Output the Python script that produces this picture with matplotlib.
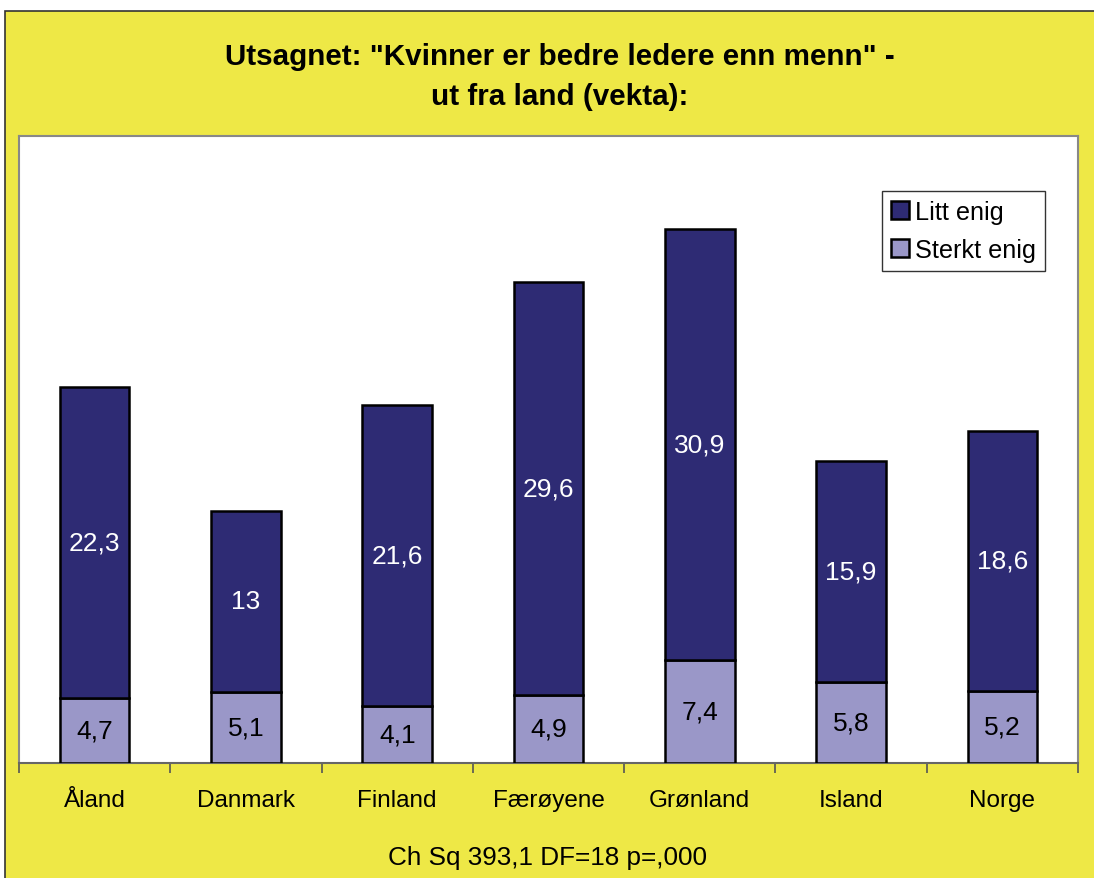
import matplotlib.pyplot as plt
from matplotlib.patches import Rectangle

plt.rcParams['font.family'] = ['Liberation Sans', 'DejaVu Sans']

countries = ['Åland', 'Danmark', 'Finland', 'Færøyene', 'Grønland', 'Island', 'Norge']
sterkt_enig = [4.7, 5.1, 4.1, 4.9, 7.4, 5.8, 5.2]
litt_enig = [22.3, 13, 21.6, 29.6, 30.9, 15.9, 18.6]

dark = '#2e2b74'
light = '#9a97c8'
yellow = '#eee846'

fig = plt.figure(figsize=(10.94, 8.79), dpi=100, facecolor='white')

# yellow chart area with border
fig.patches.append(Rectangle((5 / 1094, -0.01), 1.0, (879 - 12) / 879 + 0.01,
                             transform=fig.transFigure, facecolor=yellow,
                             edgecolor='#333333', linewidth=1.2, zorder=-10))

ax = fig.add_axes([19 / 1094, (879 - 764) / 879, (1078 - 19) / 1094, (764 - 137) / 879])
ax.set_facecolor('white')

x = list(range(len(countries)))
w = 0.46
ax.bar(x, sterkt_enig, width=w, color=light, edgecolor='black', linewidth=1.8,
       label='Sterkt enig', zorder=3)
ax.bar(x, litt_enig, width=w, bottom=sterkt_enig, color=dark, edgecolor='black',
       linewidth=1.8, label='Litt enig', zorder=3)

def fmt(v):
    s = ('%.1f' % v).replace('.', ',')
    return s[:-2] if s.endswith(',0') else s

for i in x:
    ax.text(i, sterkt_enig[i] / 2, fmt(sterkt_enig[i]), ha='center', va='center',
            fontsize=19, color='black', zorder=4)
    ax.text(i, sterkt_enig[i] + litt_enig[i] / 2, fmt(litt_enig[i]), ha='center',
            va='center', fontsize=19, color='white', zorder=4)

ax.set_xlim(-0.5, len(countries) - 0.5)
ax.set_ylim(0, 45)
ax.set_yticks([])
ax.set_xticks(x)
ax.set_xticklabels(countries, fontsize=17.5)
ax.tick_params(axis='x', which='major', length=0, pad=19)
ax.set_xticks([i - 0.5 for i in range(len(countries) + 1)], minor=True)
ax.tick_params(axis='x', which='minor', length=7, width=1.2, color='#555555', direction='out')
for s in ax.spines.values():
    s.set_color('#888888')
    s.set_linewidth(1.5)
ax.spines['bottom'].set_color('#666666')

handles, labels = ax.get_legend_handles_labels()
leg = ax.legend(handles[::-1], labels[::-1], loc='upper right',
                bbox_to_anchor=(0.969, 0.912), fontsize=18.2, frameon=True,
                fancybox=False, edgecolor='black', handlelength=0.71,
                handleheight=0.71, handletextpad=0.24, borderpad=0.35,
                labelspacing=0.55, borderaxespad=0)
leg.get_frame().set_linewidth(1.0)

fig.text(560 / 1094, 1 - 57 / 879, 'Utsagnet: "Kvinner er bedre ledere enn menn" -',
         ha='center', va='center', fontsize=21.3, fontweight='bold')
fig.text(560 / 1094, 1 - 97 / 879, 'ut fra land (vekta):',
         ha='center', va='center', fontsize=21.3, fontweight='bold')
fig.text(548 / 1094, 1 - 858 / 879, 'Ch Sq 393,1 DF=18 p=,000',
         ha='center', va='center', fontsize=18.8)

fig.savefig('out.png', dpi=100, facecolor=fig.get_facecolor())
